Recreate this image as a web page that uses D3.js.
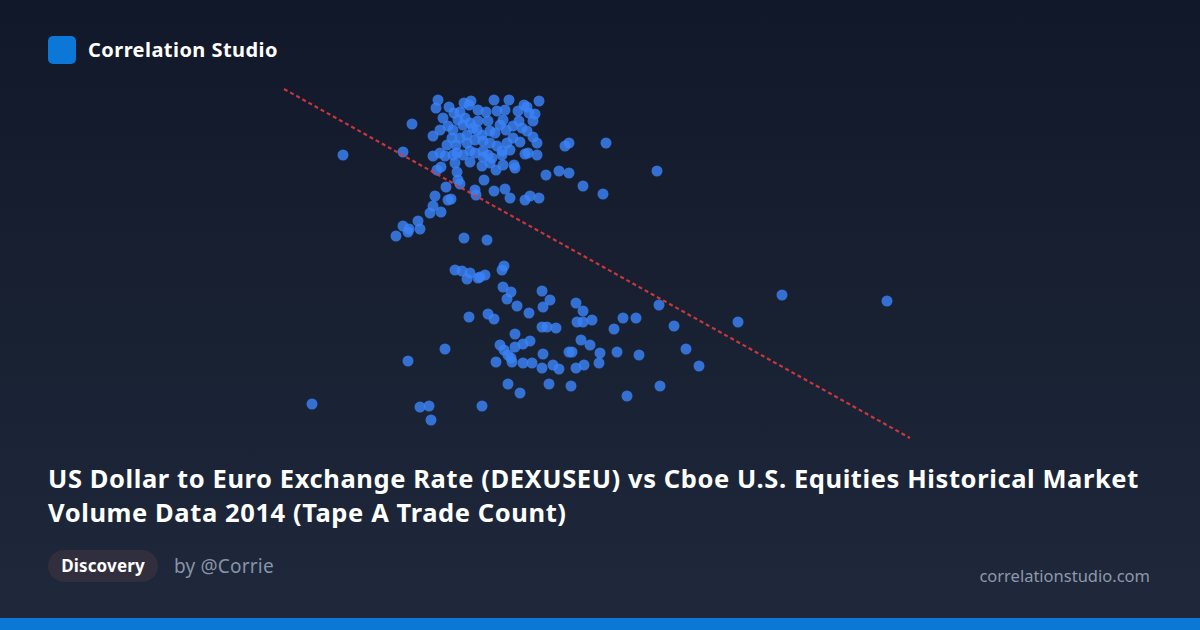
<!DOCTYPE html>
<html>
<head>
<meta charset="utf-8">
<script src="https://cdn.jsdelivr.net/npm/d3@7"></script>
<style>
  html, body { margin: 0; padding: 0; background: #111827; }
  svg { display: block; }
</style>
</head>
<body>
<svg id="chart" width="1200" height="630"></svg>
<script>
// Trade count (millions) per day — x values
const tradeCount = [
  5.28, 5.59, 6.28, 6.19, 6.12, 6.19, 6.25, 6.24, 6.36, 6.34,
  6.46, 6.49, 6.57, 6.51, 6.62, 6.64, 6.67, 6.80, 7.03, 7.00,
  7.10, 7.21, 7.26, 7.41, 7.46, 7.55, 7.62, 7.75, 7.85, 7.99,
  8.19, 7.81, 7.85, 8.22, 8.73, 6.91, 6.92, 6.73, 6.74, 6.76,
  6.53, 6.57, 6.54, 6.52, 6.65, 6.70, 6.80, 6.87, 6.85, 6.94,
  7.10, 7.25, 7.13, 7.21, 7.34, 7.40, 7.43, 7.51, 7.55, 7.49,
  7.35, 7.29, 7.19, 7.22, 7.04, 7.06, 7.11, 6.94, 6.93, 6.98,
  6.81, 6.79, 6.86, 6.89, 6.83, 6.76, 6.69, 6.64, 6.56, 6.49,
  6.68, 6.63, 6.72, 6.83, 6.91, 6.99, 7.06, 7.13, 7.23, 7.29,
  7.43, 7.49, 7.53, 7.44, 7.53, 7.26, 7.18, 6.99, 6.86, 6.73,
  6.56, 6.49, 7.04, 6.61, 6.69, 6.79, 6.91, 6.99, 7.08, 7.18,
  7.41, 6.98, 7.06, 7.19, 7.31, 7.30, 6.76, 7.02, 7.38, 6.86,
  6.74, 7.16, 7.36, 6.59, 7.12, 7.45, 6.71,
  6.71, 6.78, 6.86, 6.83, 6.94, 6.96, 7.01, 7.20, 7.18, 7.19,
  7.27, 7.23, 7.33, 7.45, 7.58, 7.66, 7.59, 7.92, 7.99, 6.85,
  7.04, 7.10, 7.58, 7.63, 7.72, 7.93, 7.99, 8.08, 8.30, 8.39,
  8.52, 8.75, 8.90, 9.02, 9.15, 6.61, 6.24, 7.31, 7.16, 7.20,
  7.24, 7.27, 7.28, 7.31, 7.39, 7.46, 7.12, 7.39, 7.48, 7.59,
  7.58, 7.69, 7.75, 7.85, 7.88, 7.97, 8.06, 8.16, 8.15, 7.92,
  8.00, 8.33, 8.55, 7.24, 7.36, 7.65, 7.87, 6.98, 6.36, 6.45,
  6.47, 8.43, 8.76, 9.98, 11.03, 9.54
];
// USD per EUR (DEXUSEU) — y values
const exchangeRate = [
  1.2420, 1.3665, 1.3820, 1.3680, 1.3260, 1.3310, 1.3295, 1.3280, 1.3295, 1.3335,
  1.3375, 1.3410, 1.3380, 1.3460, 1.3505, 1.3440, 1.3445, 1.3250, 1.3240, 1.3540,
  1.3485, 1.3495, 1.3450, 1.3440, 1.3460, 1.3450, 1.3565, 1.3585, 1.3575, 1.3510,
  1.3470, 1.3710, 1.3725, 1.3725, 1.3585, 1.3490, 1.3465, 1.3580, 1.3540, 1.3520,
  1.3590, 1.3605, 1.3940, 1.3900, 1.3905, 1.3875, 1.3925, 1.3935, 1.3915, 1.3890,
  1.3940, 1.3940, 1.3885, 1.3890, 1.3885, 1.3915, 1.3905, 1.3870, 1.3935, 1.3835,
  1.3835, 1.3810, 1.3840, 1.3790, 1.3835, 1.3785, 1.3775, 1.3835, 1.3790, 1.3765,
  1.3850, 1.3815, 1.3825, 1.3800, 1.3765, 1.3750, 1.3790, 1.3810, 1.3790, 1.3760,
  1.3750, 1.3715, 1.3715, 1.3725, 1.3740, 1.3735, 1.3725, 1.3710, 1.3725, 1.3750,
  1.3785, 1.3755, 1.3725, 1.3675, 1.3665, 1.3690, 1.3685, 1.3685, 1.3685, 1.3675,
  1.3675, 1.3660, 1.3665, 1.3660, 1.3665, 1.3665, 1.3675, 1.3655, 1.3650, 1.3665,
  1.3670, 1.3610, 1.3625, 1.3615, 1.3600, 1.3615, 1.3880, 1.3880, 1.3800, 1.3630,
  1.3840, 1.3815, 1.3730, 1.3850, 1.3590, 1.3875, 1.3625,
  1.3090, 1.3085, 1.3075, 1.3045, 1.3050, 1.3055, 1.3065, 1.3110, 1.3090, 1.3005,
  1.2980, 1.2945, 1.2910, 1.2875, 1.2985, 1.2940, 1.2905, 1.2925, 1.2885, 1.2855,
  1.2870, 1.2845, 1.2805, 1.2805, 1.2800, 1.2830, 1.2830, 1.2840, 1.2795, 1.2850,
  1.2850, 1.2915, 1.2810, 1.2695, 1.2610, 1.2695, 1.2635, 1.2770, 1.2715, 1.2690,
  1.2665, 1.2650, 1.2630, 1.2705, 1.2720, 1.2735, 1.2630, 1.2625, 1.2625, 1.2670,
  1.2600, 1.2615, 1.2595, 1.2680, 1.2680, 1.2740, 1.2715, 1.2675, 1.2625, 1.2600,
  1.2615, 1.2680, 1.2665, 1.2520, 1.2475, 1.2520, 1.2510, 1.2410, 1.2405, 1.2410,
  1.2340, 1.2460, 1.2510, 1.2965, 1.2935, 1.2830
];
// Least-squares trend line end points [tradeCount, exchangeRate]
const trendStart = [5.00, 1.3995];
const trendEnd = [11.26, 1.2250];

const brandName = "Correlation Studio";
const titleLines = [
  "US Dollar to Euro Exchange Rate (DEXUSEU) vs Cboe U.S. Equities Historical Market",
  "Volume Data 2014 (Tape A Trade Count)"
];
const tagLabel = "Discovery";
const authorLabel = "by @Corrie";
const siteLabel = "correlationstudio.com";

const FONT = "'Noto Sans', 'Open Sans', sans-serif";
const W = 1200, H = 630;
const svg = d3.select("#chart");
const defs = svg.append("defs");
const grad = defs.append("linearGradient").attr("id", "bg").attr("x1", 0).attr("y1", 0).attr("x2", 0).attr("y2", 1);
grad.append("stop").attr("offset", "0%").attr("stop-color", "#111829");
grad.append("stop").attr("offset", "100%").attr("stop-color", "#1f293b");
svg.append("rect").attr("width", W).attr("height", H).attr("fill", "url(#bg)");

// Brand
svg.append("rect").attr("x", 48).attr("y", 36).attr("width", 28).attr("height", 28)
  .attr("rx", 5).attr("fill", "#0b78d8");
svg.append("text").attr("x", 88).attr("y", 57).text(brandName)
  .attr("font-family", FONT).attr("font-weight", 700)
  .attr("font-size", 20).attr("letter-spacing", 0.45).attr("fill", "#ffffff");

// Scales
const x = d3.scaleLinear().domain([5.0, 11.26]).range([284, 910]);
const y = d3.scaleLinear().domain([1.224, 1.40]).range([440, 88]);

const pts = tradeCount.map((v, i) => ({ x: v, y: exchangeRate[i] }));

svg.append("g").selectAll("circle").data(pts).join("circle")
  .attr("cx", d => x(d.x)).attr("cy", d => y(d.y)).attr("r", 5.5)
  .attr("fill", "#3b82f6").attr("fill-opacity", 0.82);

svg.append("line")
  .attr("x1", x(trendStart[0])).attr("y1", y(trendStart[1]))
  .attr("x2", x(trendEnd[0])).attr("y2", y(trendEnd[1]))
  .attr("stroke", "#dc3a3f").attr("stroke-width", 2.2).attr("stroke-dasharray", "4,3")
  .attr("stroke-opacity", 0.9);

// Title
const t = svg.append("text").attr("font-family", FONT)
  .attr("font-weight", 700).attr("font-size", 25.5).attr("letter-spacing", 0.6).attr("fill", "#ffffff");
titleLines.forEach((l, i) => t.append("tspan").attr("x", 48).attr("y", 488 + i * 34).text(l));

// Tag pill
svg.append("rect").attr("x", 48).attr("y", 550).attr("width", 110).attr("height", 32)
  .attr("rx", 16).attr("fill", "#312e3e");
svg.append("text").attr("x", 103).attr("y", 572).attr("text-anchor", "middle").text(tagLabel)
  .attr("font-family", FONT).attr("font-weight", 700)
  .attr("font-size", 17).attr("letter-spacing", 0.15).attr("fill", "#ffffff");
svg.append("text").attr("x", 174).attr("y", 573).text(authorLabel)
  .attr("font-family", FONT).attr("font-size", 19).attr("letter-spacing", 0.2).attr("fill", "#8793a8");
svg.append("text").attr("x", 1150).attr("y", 582).attr("text-anchor", "end").text(siteLabel)
  .attr("font-family", FONT).attr("font-size", 16.5).attr("fill", "#8e98aa");

// Bottom bar
svg.append("rect").attr("x", 0).attr("y", 618).attr("width", W).attr("height", 12).attr("fill", "#0a78d4");
</script>
</body>
</html>
